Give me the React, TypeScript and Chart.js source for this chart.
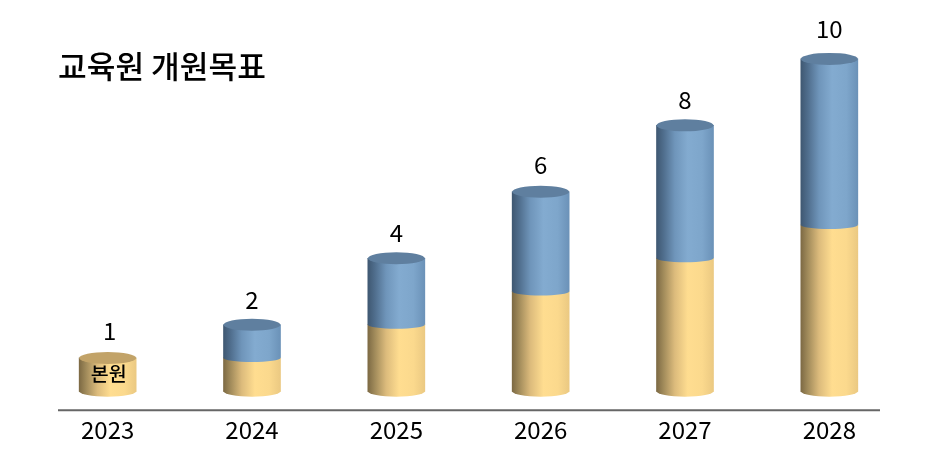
import React, { useEffect, useRef } from "react";
import { Chart, registerables } from "chart.js";

Chart.register(...registerables);

const years = ["2023", "2024", "2025", "2026", "2027", "2028"];
const baseValues = [1, 1, 2, 3, 4, 5];
const branchValues = [0, 1, 2, 3, 4, 5];
const totalLabels = ["1", "2", "4", "6", "8", "10"];
const titleText = "교육원 개원목표";
const baseName = "본원";
const branchName = "개원";
const FONT = '"Noto Sans CJK KR", "Noto Sans", sans-serif';

const yellowStops: [number, string][] = [[0, "#7d6a44"], [0.12, "#a08a5a"], [0.32, "#dcbb7c"], [0.55, "#ffdd90"], [0.8, "#fbd98d"], [1, "#ebc982"]];
const blueStops: [number, string][] = [[0, "#3f5872"], [0.12, "#4f6d8c"], [0.32, "#6f95ba"], [0.55, "#83abd0"], [0.8, "#7ea6cb"], [1, "#6b92b8"]];
const labelNudgeY = [-2, 0, 0, -2, 0, -5];
const labelNudgeX = [2, 0, 0, 0, 0, 0];

function barGradient(c: any, stops: [number, string][]) {
  const x = c.chart.scales.x?.getPixelForValue(c.dataIndex);
  if (!Number.isFinite(x)) return stops[3][1];
  const w = 57;
  const g = c.chart.ctx.createLinearGradient(x - w / 2, 0, x + w / 2, 0);
  stops.forEach(([p, col]) => g.addColorStop(p, col));
  return g;
}

const cylinderPlugin = {
  id: "cylinder",
  afterDatasetsDraw(chart: any) {
    const { ctx, chartArea } = chart;
    chart.data.datasets.forEach((ds: any, di: number) => {
      const meta = chart.getDatasetMeta(di);
      meta.data.forEach((el: any, i: number) => {
        if (!ds.data[i]) return;
        const w = 57;
        ctx.save();
        ctx.fillStyle = el.options.backgroundColor;
        ctx.beginPath();
        ctx.ellipse(el.x, el.base, w / 2, di === 0 ? 5.5 : 4, 0, 0, Math.PI * 2);
        ctx.fill();
        ctx.restore();
        const nextVal = chart.data.datasets[di + 1]?.data[i];
        if (!nextVal) {
          ctx.save();
          ctx.fillStyle = ds.capColor;
          ctx.beginPath();
          ctx.ellipse(el.x, el.y, w / 2, 6, 0, 0, Math.PI * 2);
          ctx.fill();
          ctx.restore();
          ctx.save();
          ctx.font = `400 24px ${FONT}`;
          ctx.fillStyle = "#000";
          ctx.textAlign = "center";
          ctx.textBaseline = "middle";
          ctx.fillText(totalLabels[i], el.x + labelNudgeX[i], el.y - 25 + labelNudgeY[i]);
          ctx.restore();
        }
      });
    });
    const first = chart.getDatasetMeta(0).data[0];
    ctx.save();
    ctx.font = `500 19.5px ${FONT}`;
    ctx.fillStyle = "#000";
    ctx.textAlign = "center";
    ctx.textBaseline = "middle";
    ctx.fillText(chart.data.datasets[0].label, first.x + 1, 374);
    ctx.font = `500 31.2px ${FONT}`;
    ctx.textAlign = "left";
    ctx.fillText(titleText, 58, 66);
    ctx.restore();
    ctx.save();
    ctx.strokeStyle = "#666";
    ctx.lineWidth = 2;
    ctx.beginPath();
    ctx.moveTo(58, chartArea.bottom);
    ctx.lineTo(880, chartArea.bottom);
    ctx.stroke();
    ctx.restore();
  },
};

export default function App() {
  const ref = useRef<HTMLCanvasElement>(null);
  useEffect(() => {
    const chart = new Chart(ref.current!, {
      type: "bar",
      data: {
        labels: years,
        datasets: [
          { label: baseName, data: baseValues, backgroundColor: (c: any) => barGradient(c, yellowStops), capColor: "#c2a368", barThickness: 57 } as any,
          { label: branchName, data: branchValues, backgroundColor: (c: any) => barGradient(c, blueStops), capColor: "#5f7f9f", barThickness: 57 } as any,
        ],
      },
      options: {
        animation: false,
        responsive: false,
        devicePixelRatio: 1,
        layout: { padding: { left: 35.5, right: 38.5, top: 20, bottom: 15 } },
        plugins: { legend: { display: false }, tooltip: { enabled: false }, title: { display: false } },
        scales: {
          x: {
            stacked: true,
            grid: { display: false, drawTicks: false },
            border: { display: false },
            ticks: { color: "#000", font: { family: FONT, size: 24 }, padding: 5, maxRotation: 0 },
          },
          y: { stacked: true, display: false, min: -0.572, max: 11.17 },
        },
      },
      plugins: [cylinderPlugin],
    });
    return () => chart.destroy();
  }, []);
  return (
    <div style={{ position: "absolute", left: 0, top: 0, width: 940, height: 464, background: "#fff" }}>
      <canvas ref={ref} width={940} height={464} style={{ display: "block" }} />
    </div>
  );
}
